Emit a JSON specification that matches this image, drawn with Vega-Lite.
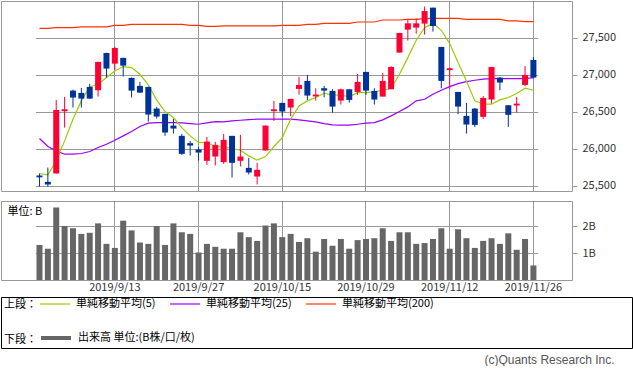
{
  "$schema": "https://vega.github.io/schema/vega-lite/v6.json",
  "padding": 0,
  "background": "white",
  "config": {
    "font": "Noto Sans CJK JP",
    "view": {"stroke": "#999999", "strokeWidth": 1},
    "axis": {"labelFont": "Noto Sans CJK JP", "labelFontSize": 11, "labelColor": "#333333", "gridColor": "#999999", "gridOpacity": 1, "gridWidth": 1, "domain": false, "tickColor": "#999999"},
    "legend": {"labelFont": "Noto Sans CJK JP", "titleFont": "Noto Sans CJK JP", "labelFontSize": 11, "titleFontSize": 11, "titleFontWeight": "normal", "labelColor": "#000000", "titleColor": "#000000"}
  },
  "title": {"text": "(c)Quants Research Inc.", "orient": "bottom", "anchor": "end", "font": "Liberation Sans", "fontSize": 12, "fontWeight": "normal", "color": "#555555", "offset": 6, "dx": -18},
  "datasets": {
    "d": [
      {"date": "2019/9/2", "o": 25640, "h": 25667, "l": 25490, "c": 25615, "v": 1.30, "ma5": 25667, "ma25": 26140, "ma200": 27631},
      {"date": "2019/9/3", "o": 25554, "h": 25748, "l": 25491, "c": 25518, "v": 1.16, "ma5": 25649, "ma25": 26032, "ma200": 27631},
      {"date": "2019/9/4", "o": 25667, "h": 26662, "l": 25667, "c": 26527, "v": 2.69, "ma5": 25838, "ma25": 25973, "ma200": 27640},
      {"date": "2019/9/5", "o": 26510, "h": 26703, "l": 26288, "c": 26535, "v": 2.00, "ma5": 26108, "ma25": 25928, "ma200": 27640},
      {"date": "2019/9/6", "o": 26788, "h": 26802, "l": 26559, "c": 26694, "v": 1.92, "ma5": 26401, "ma25": 25928, "ma200": 27640},
      {"date": "2019/9/9", "o": 26757, "h": 26824, "l": 26559, "c": 26680, "v": 1.71, "ma5": 26649, "ma25": 25937, "ma200": 27649},
      {"date": "2019/9/10", "o": 26838, "h": 26879, "l": 26675, "c": 26680, "v": 1.75, "ma5": 26838, "ma25": 25964, "ma200": 27649},
      {"date": "2019/9/11", "o": 26793, "h": 27180, "l": 26707, "c": 27176, "v": 2.10, "ma5": 26874, "ma25": 26018, "ma200": 27649},
      {"date": "2019/9/12", "o": 27297, "h": 27300, "l": 26964, "c": 27086, "v": 1.34, "ma5": 26964, "ma25": 26063, "ma200": 27649},
      {"date": "2019/9/13", "o": 27153, "h": 27379, "l": 27068, "c": 27365, "v": 1.19, "ma5": 27054, "ma25": 26117, "ma200": 27671},
      {"date": "2019/9/16", "o": 27230, "h": 27235, "l": 26978, "c": 27126, "v": 2.20, "ma5": 27113, "ma25": 26176, "ma200": 27671},
      {"date": "2019/9/17", "o": 26960, "h": 26965, "l": 26694, "c": 26788, "v": 1.84, "ma5": 27099, "ma25": 26234, "ma200": 27685},
      {"date": "2019/9/18", "o": 26852, "h": 26906, "l": 26755, "c": 26761, "v": 1.39, "ma5": 27009, "ma25": 26302, "ma200": 27685},
      {"date": "2019/9/19", "o": 26838, "h": 26840, "l": 26369, "c": 26464, "v": 1.34, "ma5": 26865, "ma25": 26347, "ma200": 27685},
      {"date": "2019/9/20", "o": 26545, "h": 26568, "l": 26410, "c": 26437, "v": 2.00, "ma5": 26658, "ma25": 26356, "ma200": 27685},
      {"date": "2019/9/23", "o": 26473, "h": 26475, "l": 26176, "c": 26221, "v": 1.30, "ma5": 26505, "ma25": 26356, "ma200": 27685},
      {"date": "2019/9/24", "o": 26315, "h": 26405, "l": 26207, "c": 26275, "v": 2.10, "ma5": 26424, "ma25": 26356, "ma200": 27685},
      {"date": "2019/9/25", "o": 26176, "h": 26203, "l": 25919, "c": 25932, "v": 1.77, "ma5": 26288, "ma25": 26351, "ma200": 27685},
      {"date": "2019/9/26", "o": 26077, "h": 26108, "l": 25910, "c": 26045, "v": 1.71, "ma5": 26176, "ma25": 26342, "ma200": 27671},
      {"date": "2019/9/27", "o": 25991, "h": 26027, "l": 25842, "c": 25950, "v": 1.02, "ma5": 26086, "ma25": 26333, "ma200": 27671},
      {"date": "2019/9/30", "o": 25838, "h": 26162, "l": 25784, "c": 26099, "v": 1.34, "ma5": 26086, "ma25": 26351, "ma200": 27658},
      {"date": "2019/10/2", "o": 25896, "h": 26095, "l": 25775, "c": 26054, "v": 1.23, "ma5": 26032, "ma25": 26369, "ma200": 27658},
      {"date": "2019/10/3", "o": 25820, "h": 26203, "l": 25797, "c": 26122, "v": 1.16, "ma5": 26027, "ma25": 26365, "ma200": 27663},
      {"date": "2019/10/4", "o": 26176, "h": 26176, "l": 25613, "c": 25811, "v": 1.16, "ma5": 26005, "ma25": 26378, "ma200": 27663},
      {"date": "2019/10/8", "o": 25838, "h": 26189, "l": 25761, "c": 25896, "v": 1.77, "ma5": 25982, "ma25": 26387, "ma200": 27663},
      {"date": "2019/10/9", "o": 25743, "h": 25878, "l": 25653, "c": 25680, "v": 1.59, "ma5": 25905, "ma25": 26396, "ma200": 27663},
      {"date": "2019/10/10", "o": 25626, "h": 25811, "l": 25518, "c": 25716, "v": 1.45, "ma5": 25847, "ma25": 26401, "ma200": 27663},
      {"date": "2019/10/11", "o": 25978, "h": 26315, "l": 25978, "c": 26315, "v": 2.02, "ma5": 25896, "ma25": 26401, "ma200": 27663},
      {"date": "2019/10/14", "o": 26510, "h": 26649, "l": 26378, "c": 26535, "v": 2.10, "ma5": 26032, "ma25": 26401, "ma200": 27663},
      {"date": "2019/10/15", "o": 26622, "h": 26622, "l": 26437, "c": 26505, "v": 1.59, "ma5": 26153, "ma25": 26401, "ma200": 27671},
      {"date": "2019/10/16", "o": 26559, "h": 26676, "l": 26442, "c": 26676, "v": 1.71, "ma5": 26401, "ma25": 26401, "ma200": 27671},
      {"date": "2019/10/17", "o": 26811, "h": 26973, "l": 26734, "c": 26865, "v": 1.41, "ma5": 26581, "ma25": 26392, "ma200": 27671},
      {"date": "2019/10/18", "o": 26919, "h": 27000, "l": 26662, "c": 26721, "v": 1.55, "ma5": 26649, "ma25": 26378, "ma200": 27685},
      {"date": "2019/10/21", "o": 26710, "h": 26820, "l": 26653, "c": 26735, "v": 1.05, "ma5": 26694, "ma25": 26365, "ma200": 27685},
      {"date": "2019/10/22", "o": 26820, "h": 26851, "l": 26698, "c": 26788, "v": 1.52, "ma5": 26752, "ma25": 26342, "ma200": 27698},
      {"date": "2019/10/23", "o": 26784, "h": 26806, "l": 26491, "c": 26572, "v": 1.27, "ma5": 26730, "ma25": 26324, "ma200": 27698},
      {"date": "2019/10/24", "o": 26653, "h": 26815, "l": 26599, "c": 26806, "v": 1.52, "ma5": 26725, "ma25": 26320, "ma200": 27698},
      {"date": "2019/10/25", "o": 26806, "h": 26806, "l": 26626, "c": 26662, "v": 1.16, "ma5": 26707, "ma25": 26320, "ma200": 27698},
      {"date": "2019/10/28", "o": 26770, "h": 27014, "l": 26730, "c": 26906, "v": 1.48, "ma5": 26761, "ma25": 26333, "ma200": 27716},
      {"date": "2019/10/29", "o": 27041, "h": 27041, "l": 26730, "c": 26788, "v": 1.52, "ma5": 26761, "ma25": 26347, "ma200": 27716},
      {"date": "2019/10/30", "o": 26784, "h": 26820, "l": 26599, "c": 26667, "v": 1.55, "ma5": 26770, "ma25": 26356, "ma200": 27716},
      {"date": "2019/10/31", "o": 26707, "h": 27027, "l": 26707, "c": 26919, "v": 1.92, "ma5": 26793, "ma25": 26392, "ma200": 27743},
      {"date": "2019/11/1", "o": 26806, "h": 27117, "l": 26806, "c": 27108, "v": 1.45, "ma5": 26820, "ma25": 26446, "ma200": 27743},
      {"date": "2019/11/4", "o": 27302, "h": 27568, "l": 27302, "c": 27568, "v": 1.77, "ma5": 27009, "ma25": 26505, "ma200": 27743},
      {"date": "2019/11/5", "o": 27613, "h": 27748, "l": 27464, "c": 27698, "v": 1.77, "ma5": 27234, "ma25": 26568, "ma200": 27752},
      {"date": "2019/11/6", "o": 27640, "h": 27766, "l": 27559, "c": 27698, "v": 1.34, "ma5": 27469, "ma25": 26649, "ma200": 27752},
      {"date": "2019/11/7", "o": 27694, "h": 27924, "l": 27545, "c": 27865, "v": 1.37, "ma5": 27640, "ma25": 26671, "ma200": 27761},
      {"date": "2019/11/8", "o": 27910, "h": 27910, "l": 27586, "c": 27662, "v": 1.52, "ma5": 27698, "ma25": 26739, "ma200": 27766},
      {"date": "2019/11/11", "o": 27379, "h": 27379, "l": 26820, "c": 26919, "v": 1.92, "ma5": 27604, "ma25": 26793, "ma200": 27766},
      {"date": "2019/11/12", "o": 27065, "h": 27100, "l": 26806, "c": 27090, "v": 1.16, "ma5": 27424, "ma25": 26842, "ma200": 27766},
      {"date": "2019/11/13", "o": 26770, "h": 26770, "l": 26469, "c": 26572, "v": 1.88, "ma5": 27167, "ma25": 26883, "ma200": 27766},
      {"date": "2019/11/14", "o": 26446, "h": 26622, "l": 26207, "c": 26329, "v": 1.55, "ma5": 26919, "ma25": 26910, "ma200": 27752},
      {"date": "2019/11/15", "o": 26545, "h": 26554, "l": 26297, "c": 26324, "v": 1.19, "ma5": 26649, "ma25": 26928, "ma200": 27752},
      {"date": "2019/11/18", "o": 26433, "h": 26716, "l": 26406, "c": 26689, "v": 1.45, "ma5": 26604, "ma25": 26942, "ma200": 27752},
      {"date": "2019/11/19", "o": 26667, "h": 27108, "l": 26613, "c": 27108, "v": 1.55, "ma5": 26604, "ma25": 26951, "ma200": 27752},
      {"date": "2019/11/20", "o": 26964, "h": 26973, "l": 26793, "c": 26897, "v": 1.34, "ma5": 26662, "ma25": 26951, "ma200": 27752},
      {"date": "2019/11/21", "o": 26590, "h": 26590, "l": 26297, "c": 26460, "v": 1.73, "ma5": 26694, "ma25": 26951, "ma200": 27730},
      {"date": "2019/11/22", "o": 26587, "h": 26703, "l": 26491, "c": 26612, "v": 1.12, "ma5": 26748, "ma25": 26951, "ma200": 27730},
      {"date": "2019/11/25", "o": 26865, "h": 27122, "l": 26847, "c": 27000, "v": 1.52, "ma5": 26820, "ma25": 26951, "ma200": 27721},
      {"date": "2019/11/26", "o": 27203, "h": 27243, "l": 26955, "c": 26964, "v": 0.54, "ma5": 26793, "ma25": 26964, "ma200": 27721}
    ]
  },
  "spacing": 3,
  "vconcat": [
    {
      "spacing": 8,
      "vconcat": [
        {
          "width": 571,
          "height": 190,
          "data": {"name": "d"},
          "encoding": {
            "x": {"field": "date", "type": "ordinal", "sort": null,
                  "scale": {"type": "band", "paddingInner": 0, "paddingOuter": 0, "range": [34.3, 536.6]},
                  "axis": {"values": ["2019/9/13", "2019/9/27", "2019/10/15", "2019/10/29", "2019/11/12", "2019/11/26"], "labels": false, "ticks": false, "grid": true, "title": null, "domain": false}}
          },
          "layer": [
            {
              "transform": [{"fold": ["ma200", "ma25", "ma5"], "as": ["key", "value"]}],
              "mark": {"type": "line", "strokeWidth": 1.2, "interpolate": "linear"},
              "encoding": {
                "y": {"field": "value", "type": "quantitative",
                      "scale": {"domain": [25430, 28000], "nice": false, "zero": false},
                      "axis": {"orient": "right", "values": [25500, 26000, 26500, 27000, 27500], "labelExpr": "format(datum.value, ',.0f')", "title": null, "grid": true, "ticks": true, "tickSize": 5, "labelPadding": 5}},
                "stroke": {"field": "key", "type": "nominal",
                           "scale": {"domain": ["ma5", "ma25", "ma200"], "range": ["#99cc00", "#9900ff", "#ff3300"]},
                           "legend": {"title": "上段：", "orient": "none", "legendX": 3, "legendY": 287, "direction": "horizontal", "titleOrient": "left", "titleAnchor": "middle", "titleBaseline": "top", "titlePadding": 2, "symbolType": "stroke", "symbolSize": 900, "symbolStrokeWidth": 1.2, "labelOffset": 5, "columnPadding": 11, "labelExpr": "datum.label == 'ma5' ? '単純移動平均(5)' : datum.label == 'ma25' ? '単純移動平均(25)' : '単純移動平均(200)'"}}
              }
            },
            {
              "mark": {"type": "rule", "strokeWidth": 1},
              "encoding": {
                "y": {"field": "h", "type": "quantitative", "axis": {"labelExpr": "format(datum.value, ',.0f')"}},
                "y2": {"field": "l"},
                "color": {"condition": {"test": "datum.c > datum.o", "value": "#ff0033"}, "value": "#003399"}
              }
            },
            {
              "mark": {"type": "bar", "size": 6},
              "encoding": {
                "y": {"field": "o", "type": "quantitative", "axis": {"labelExpr": "format(datum.value, ',.0f')"}},
                "y2": {"field": "c"},
                "color": {"condition": {"test": "datum.c > datum.o", "value": "#ff0033"}, "value": "#003399"}
              }
            }
          ]
        },
        {
          "width": 571,
          "height": 79,
          "data": {"name": "d"},
          "mark": {"type": "bar", "size": 6},
          "encoding": {
            "x": {"field": "date", "type": "ordinal", "sort": null,
                  "scale": {"type": "band", "paddingInner": 0, "paddingOuter": 0, "range": [34.3, 536.6]},
                  "axis": {"values": ["2019/9/13", "2019/9/27", "2019/10/15", "2019/10/29", "2019/11/12", "2019/11/26"], "labels": true, "labelAngle": 0, "labelPadding": 1, "labelOverlap": false, "ticks": false, "grid": true, "title": null, "domain": false}},
            "y": {"field": "v", "type": "quantitative",
                  "scale": {"domain": [0, 2.93], "nice": false},
                  "axis": {"orient": "right", "values": [1, 2], "labelExpr": "datum.value + 'B'", "grid": true, "ticks": true, "tickSize": 5, "labelPadding": 5,
                           "title": "単位: B", "titleAngle": 0, "titleX": -565, "titleY": 10, "titleAlign": "left", "titleBaseline": "middle", "titleFontWeight": "normal", "titleFontSize": 11, "titleColor": "#000000"}},
            "fill": {"datum": "出来高 単位:(B株/口/枚)",
                     "scale": {"range": ["#666666"]},
                     "legend": {"title": "下段：", "orient": "none", "legendX": 3, "legendY": 320, "direction": "horizontal", "titleOrient": "left", "titleAnchor": "middle", "titleBaseline": "top", "titlePadding": 2, "symbolType": "stroke", "symbolSize": 900, "symbolStrokeWidth": 4, "symbolStrokeColor": "#666666", "labelOffset": 5}}
          }
        }
      ]
    },
    {
      "width": 631,
      "height": 51,
      "view": {"stroke": "#000000", "strokeWidth": 1},
      "data": {"values": [{"t": ""}]},
      "mark": {"type": "text"},
      "encoding": {"text": {"field": "t", "type": "nominal"}}
    }
  ]
}
